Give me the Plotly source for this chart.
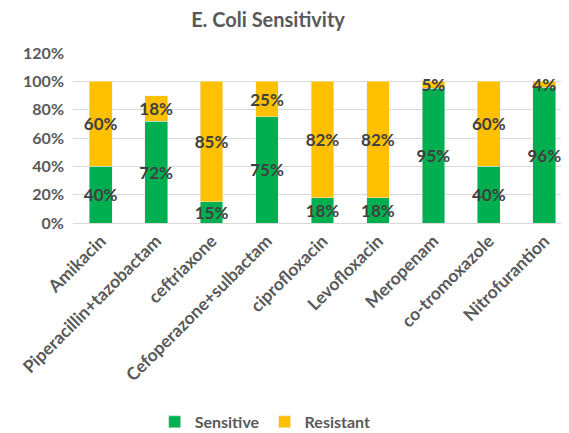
import plotly.graph_objects as go

categories = ["Amikacin", "Piperacillin+tazobactam", "ceftriaxone", "Cefoperazone+sulbactam",
              "ciprofloxacin", "Levofloxacin", "Meropenam", "co-tromoxazole", "Nitrofurantion"]
sensitive = [40, 72, 15, 75, 18, 18, 95, 40, 96]
resistant = [60, 18, 85, 25, 82, 82, 5, 60, 4]
y_ticks = [0, 20, 40, 60, 80, 100, 120]

FONT = "Lato"
LABEL_FONT = dict(family=FONT, size=17, color="#404040", weight="bold")
fig = go.Figure()
fig.add_trace(go.Bar(name="Sensitive", x=categories, y=sensitive, marker_color="#00B050",
                     text=[f"{v}%" for v in sensitive], textposition="inside", textangle=0,
                     insidetextanchor="middle", constraintext="none",
                     textfont=LABEL_FONT))
fig.add_trace(go.Bar(name="Resistant", x=categories, y=resistant, marker_color="#FFC000",
                     text=[f"{v}%" for v in resistant], textposition="inside", textangle=0,
                     insidetextanchor="middle", constraintext="none",
                     textfont=LABEL_FONT))

fig.update_layout(
    barmode="stack", bargap=0.59,
    width=569, height=425,
    margin=dict(l=65.3, r=4.7, t=45.4, b=209.7),
    paper_bgcolor="white", plot_bgcolor="white",
    uniformtext=dict(minsize=17, mode="show"),
    title=dict(text="<b>E. Coli Sensitivity</b>", x=0.457, xref="container", xanchor="center",
               y=0.972, yref="container", yanchor="middle",
               font=dict(family=FONT, size=20, color="#595959")),
    legend=dict(orientation="h", x=0.452, xanchor="center", xref="container",
                y=0.026, yref="container", yanchor="middle",
                font=dict(family=FONT, size=16, color="#595959", weight="bold"),
                traceorder="normal"),
    showlegend=True,
)
fig.update_yaxes(range=[0, 120], tickvals=y_ticks, ticktext=[f"{t}%" for t in y_ticks],
                 showgrid=True, gridcolor="#D9D9D9", gridwidth=1, zeroline=False,
                 showline=False, ticks="", ticklabelstandoff=8, automargin=False,
                 tickfont=dict(family=FONT, size=16, color="#595959", weight="bold"))
fig.update_xaxes(tickangle=-45, showline=True, linecolor="#D9D9D9", ticks="", automargin=False,
                 tickfont=dict(family=FONT, size=17.5, color="#595959", weight="bold"))

fig.write_html("out.html")
